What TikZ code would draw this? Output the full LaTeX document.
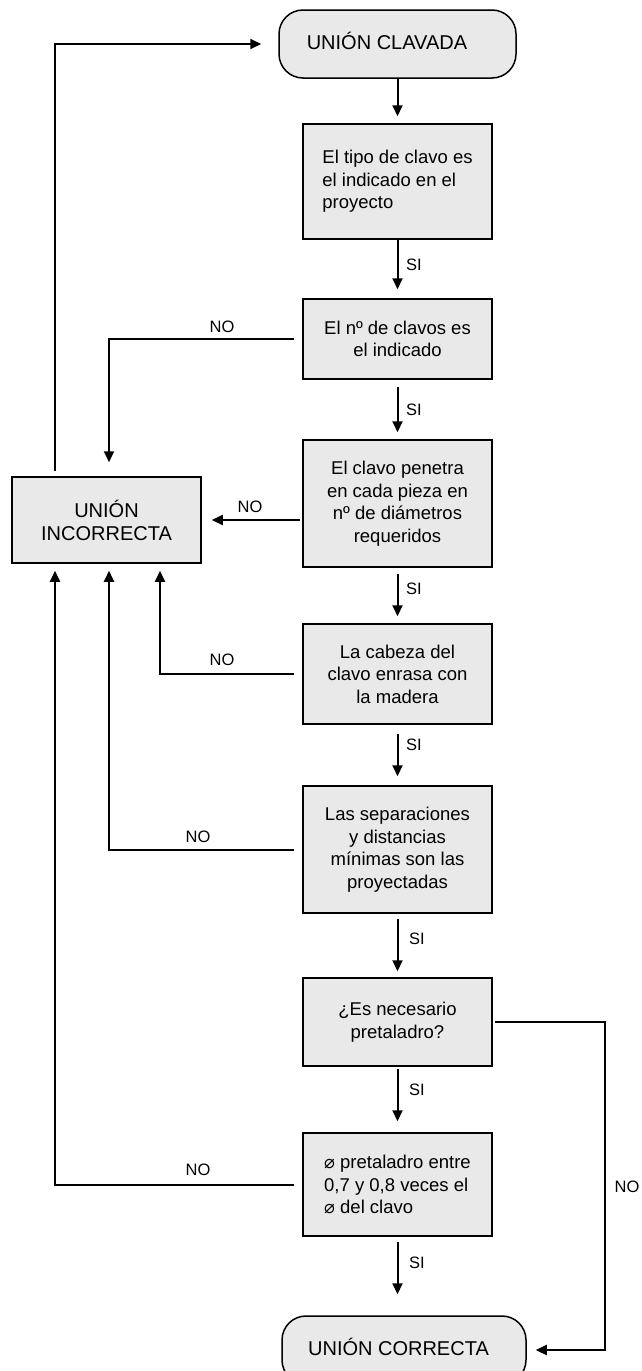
\documentclass[tikz,border=0pt]{standalone}
\usepackage{fontspec}
\setmainfont{Liberation Sans}
\newfontfamily\dejavu{DejaVu Sans}
\usetikzlibrary{arrows.meta}
\definecolor{boxgray}{HTML}{E9E9E9}
\newcommand{\diam}{{\dejavu\fontsize{18}{22.5}\selectfont ⌀}}
\begin{document}
\begin{tikzpicture}[x=1pt,y=-1pt,
  box/.style={draw, line width=1.5pt, fill=boxgray, minimum width=189pt, inner sep=0pt,
    font=\fontsize{18.5}{22.5}\selectfont},
  term/.style={draw, line width=1.5pt, fill=boxgray, rounded corners=24pt, inner sep=0pt, minimum height=68pt},
  termtext/.style={inner sep=0pt, font=\fontsize{20}{23}\selectfont},
  lbl/.style={inner sep=0pt, font=\fontsize{16.5}{18}\selectfont},
  conn/.style={line width=2pt},
  arr/.style={conn, -{Triangle[length=11pt,width=10pt]}}
]
\useasboundingbox (0,0) rectangle (642,1371);
\clip (0,0) rectangle (642,1371);

% terminals
\node[term, minimum width=237pt] (t1) at (397.5,44) {};
\node[termtext] (t1txt) at (387,41) {UNIÓN CLAVADA};
\node[term, minimum width=244pt] (t2) at (404,1350) {};
\node[termtext] (t2txt) at (398.5,1347) {UNIÓN CORRECTA};

% process boxes
\node[box, minimum height=115pt, align=left] (b1) at (397.5,181.5)
  {El tipo de clavo es\\el indicado en el\\proyecto};
\node[box, minimum height=80pt, align=center] (b2) at (397.5,339)
  {El nº de clavos es\\el indicado};
\node[box, minimum height=127pt, align=center] (b3) at (397.5,503.5)
  {El clavo penetra\\en cada pieza en\\nº de diámetros\\requeridos};
\node[box, minimum height=100pt, align=center] (b4) at (397.5,674)
  {La cabeza del\\clavo enrasa con\\la madera};
\node[box, minimum height=127pt, align=center] (b5) at (397.5,849.5)
  {Las separaciones\\y distancias\\mínimas son las\\proyectadas};
\node[box, minimum height=88pt, align=center] (b6) at (397.5,1022)
  {¿Es necesario\\pretaladro?};
\node[box, minimum height=103pt, align=left] (b7) at (397.5,1184.5)
  {\diam{} pretaladro entre\\0,7 y 0,8 veces el\\\diam{} del clavo};

\node[box, minimum height=86pt, align=center, font=\fontsize{20}{23}\selectfont] (inc) at (106.5,520)
  {UNIÓN\\INCORRECTA};

% SI arrows
\draw[arr, shorten >=7pt] (t1) -- (b1);
\draw[arr, shorten >=9pt] (b1) -- (b2);
\draw[arr, shorten <=7pt, shorten >=7pt] (b2) -- (b3);
\draw[arr, shorten <=6pt, shorten >=7pt] (b3) -- (b4);
\draw[arr, shorten <=9pt, shorten >=9pt] (b4) -- (b5);
\draw[arr, shorten <=5pt, shorten >=6pt] (b5) -- (b6);
\draw[arr, shorten <=2pt, shorten >=11pt] (b6) -- (b7);
\draw[arr, shorten <=5pt, shorten >=21pt] (b7) -- (b7 |- t2.north);

\node[lbl] (si1) at (414,265) {SI};
\node[lbl] (si2) at (414,410) {SI};
\node[lbl] (si3) at (414,589) {SI};
\node[lbl] (si4) at (414,745) {SI};
\node[lbl] (si5) at (417,939) {SI};
\node[lbl] (si6) at (417,1090) {SI};
\node[lbl] (si7) at (417,1263) {SI};

% NO connectors
\draw[arr, shorten <=8pt, shorten >=14pt] (b2.west) -| ([xshift=2.5pt]inc.north);
\draw[arr, shorten <=2pt, shorten >=10pt] (b3.west |- inc.east) -- (inc.east);
\draw[arr, shorten <=8pt, shorten >=7pt] (b4.west) -| ([xshift=53.5pt]inc.south);
\draw[arr, shorten <=8pt, shorten >=7pt] (b5.west) -| ([xshift=2.5pt]inc.south);
\draw[arr, shorten <=8pt, shorten >=7pt] (b7.west) -| ([xshift=-51.5pt]inc.south);
\draw[arr, shorten <=5pt, shorten >=17pt] ([xshift=-51.5pt]inc.north) |- (t1.west);
\coordinate (c6) at (605,1022);
\draw[arr, shorten <=2pt, shorten >=9pt] (b6.east) -- (c6) |- (t2.east);

\node[lbl] (no2) at (222,327) {NO};
\node[lbl] (no3) at (250,507) {NO};
\node[lbl] (no4) at (222,660) {NO};
\node[lbl] (no5) at (198,837) {NO};
\node[lbl] (no7) at (198,1170) {NO};
\node[lbl] (no6) at (627,1187) {NO};
\end{tikzpicture}
\end{document}
